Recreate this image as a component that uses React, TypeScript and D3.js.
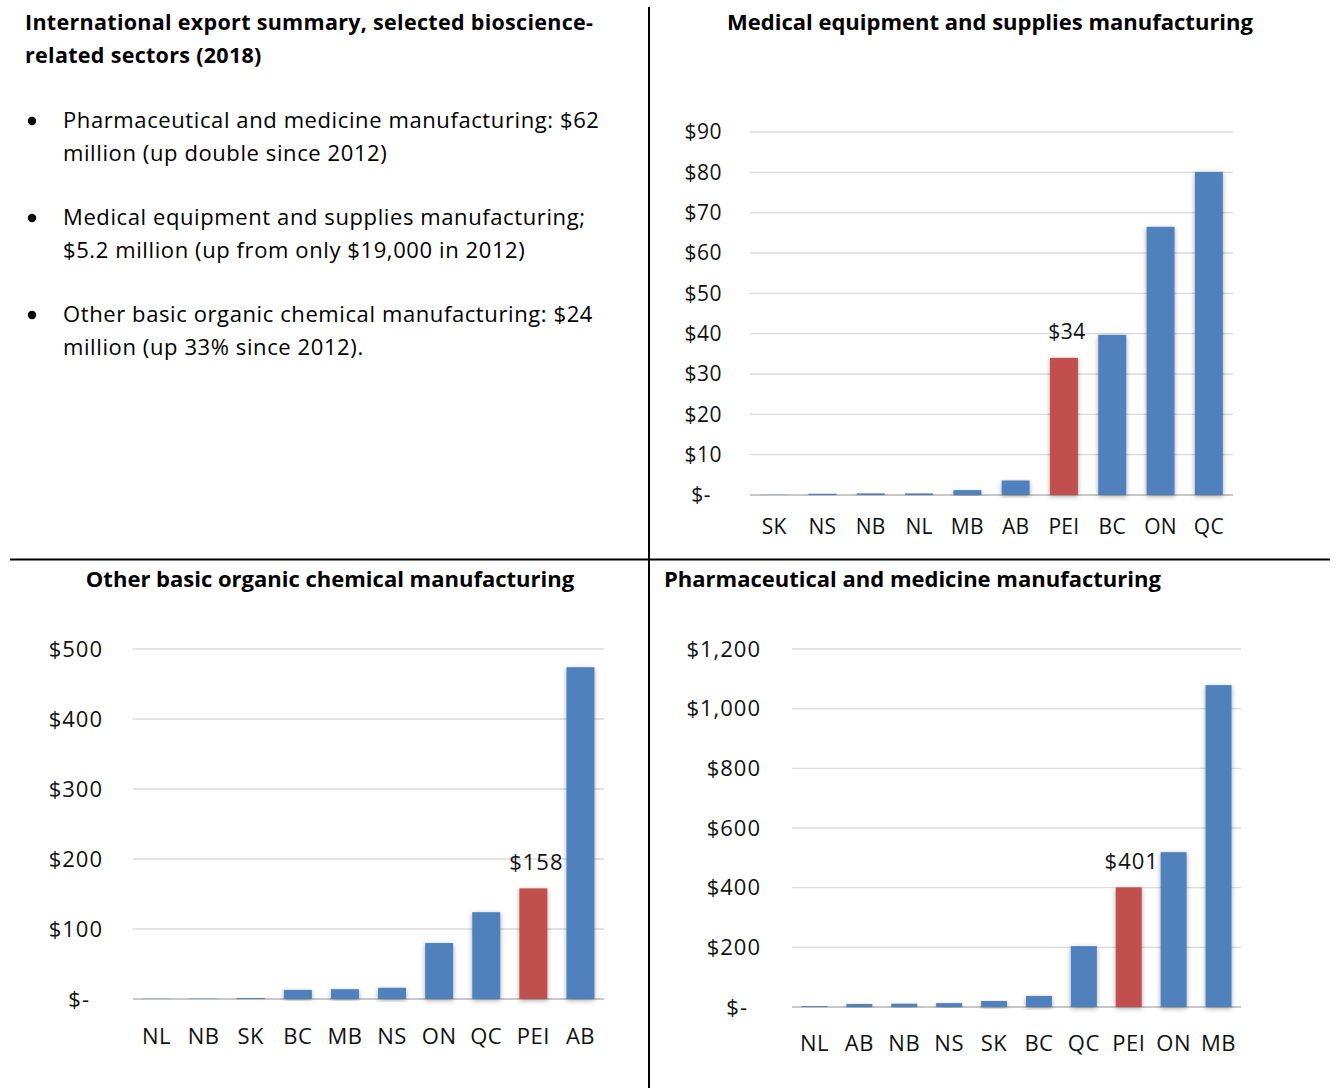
import React from "react";
import * as d3 from "d3";

const BLUE = "#4F81BD";
const RED = "#C0504D";
const FONT = "'Open Sans', sans-serif";

const summaryTitle = ["International export summary, selected bioscience-", "related sectors (2018)"];
const summaryBullets = [
  ["Pharmaceutical and medicine manufacturing: $62", "million (up double since 2012)"],
  ["Medical equipment and supplies manufacturing;", "$5.2 million (up from only $19,000 in 2012)"],
  ["Other basic organic chemical manufacturing: $24", "million (up 33% since 2012)."],
];

const medTitle = "Medical equipment and supplies manufacturing";
const medCats = ["SK", "NS", "NB", "NL", "MB", "AB", "PEI", "BC", "ON", "QC"];
const medVals = [0.05, 0.3, 0.4, 0.4, 1.2, 3.6, 34, 39.7, 66.5, 80.1];
const medTicks = [0, 10, 20, 30, 40, 50, 60, 70, 80, 90];

const orgTitle = "Other basic organic chemical manufacturing";
const orgCats = ["NL", "NB", "SK", "BC", "MB", "NS", "ON", "QC", "PEI", "AB"];
const orgVals = [0.3, 0.5, 1.4, 13, 14, 16, 80, 124, 158, 474];
const orgTicks = [0, 100, 200, 300, 400, 500];

const phaTitle = "Pharmaceutical and medicine manufacturing";
const phaCats = ["NL", "AB", "NB", "NS", "SK", "BC", "QC", "PEI", "ON", "MB"];
const phaVals = [3, 10, 11, 13, 20, 37, 204, 401, 519, 1079];
const phaTicks = [0, 200, 400, 600, 800, 1000, 1200];

const highlight = "PEI";

type ChartProps = {
  cats: string[];
  vals: number[];
  ticks: number[];
  x0: number;
  x1: number;
  yTop: number;
  yBot: number;
  labelRight: number;
  zeroRight: number;
  catY: number;
  barW: number;
  fontSize: number;
  ls: number;
};

function fmt(v: number) {
  return v === 0 ? "$-" : "$" + d3.format(",")(v);
}

function BarChart(p: ChartProps) {
  const x = d3.scaleBand<string>().domain(p.cats).range([p.x0, p.x1]).padding(0);
  const y = d3
    .scaleLinear()
    .domain([0, p.ticks[p.ticks.length - 1]])
    .range([p.yBot, p.yTop]);
  return (
    <g>
      {p.ticks.map((t) => (
        <g key={t}>
          <line
            x1={p.x0}
            x2={p.x1}
            y1={y(t)}
            y2={y(t)}
            stroke={t === 0 ? "#C8C8C8" : "#DADADA"}
            strokeWidth={t === 0 ? 2 : 1.3}
          />
          <text
            x={t === 0 ? p.zeroRight : p.labelRight}
            y={y(t)}
            dy="0.35em"
            textAnchor="end"
            fontSize={p.fontSize}
            fontFamily={FONT}
            letterSpacing={p.ls}
            fill="#111"
          >
            {fmt(t)}
          </text>
        </g>
      ))}
      {p.cats.map((c, i) => {
        const cx = (x(c) as number) + x.bandwidth() / 2;
        const top = y(p.vals[i]);
        const isH = c === highlight;
        return (
          <g key={c}>
            <rect
              x={cx - p.barW / 2}
              y={top}
              width={p.barW}
              height={Math.max(0, p.yBot - top)}
              fill={isH ? RED : BLUE}
              filter="url(#shadow)"
            />
            {isH && (
              <text
                x={cx + 3}
                y={top - 26}
                dy="0.35em"
                textAnchor="middle"
                fontSize={p.fontSize}
                fontFamily={FONT}
                letterSpacing={p.ls}
                fill="#111"
              >
                {"$" + d3.format(",")(Math.round(p.vals[i]))}
              </text>
            )}
            <text
              x={cx}
              y={p.catY}
              dy="0.35em"
              textAnchor="middle"
              fontSize={p.fontSize}
              fontFamily={FONT}
              letterSpacing={p.ls * 0.5}
              fill="#111"
            >
              {c}
            </text>
          </g>
        );
      })}
    </g>
  );
}

export default function App() {
  return (
    <svg
      width={1335}
      height={1088}
      style={{ position: "absolute", left: 0, top: 0, background: "#fff" }}
    >
      <defs>
        <filter id="shadow" x="-30%" y="-10%" width="160%" height="130%">
          <feDropShadow dx="0" dy="1.5" stdDeviation="2.5" floodColor="#000" floodOpacity="0.35" />
        </filter>
      </defs>
      <rect width={1335} height={1088} fill="#fff" />
      {/* dividers */}
      <line x1={649} x2={649} y1={7} y2={1088} stroke="#000" strokeWidth={2} />
      <line x1={10} x2={1330} y1={559.5} y2={559.5} stroke="#000" strokeWidth={2} />

      {/* summary text */}
      {summaryTitle.map((t, i) => (
        <text key={t} x={25} y={30 + i * 33} fontSize={21.5} letterSpacing={0.3} fontWeight="bold" fontFamily={FONT} fill="#000">
          {t}
        </text>
      ))}
      {summaryBullets.map((b, i) => (
        <g key={i}>
          <circle cx={32} cy={121 + i * 97} r={4.2} fill="#000" />
          {b.map((l, j) => (
            <text key={j} x={63} y={128 + i * 97 + j * 33} fontSize={22} letterSpacing={0.6} fontFamily={FONT} fill="#000">
              {l}
            </text>
          ))}
        </g>
      ))}

      {/* titles */}
      <text x={990} y={30} textAnchor="middle" fontSize={22} fontWeight="bold" fontFamily={FONT}>
        {medTitle}
      </text>
      <text x={330} y={587} textAnchor="middle" fontSize={22} fontWeight="bold" fontFamily={FONT}>
        {orgTitle}
      </text>
      <text x={664} y={587} textAnchor="start" fontSize={22} fontWeight="bold" fontFamily={FONT}>
        {phaTitle}
      </text>

      <BarChart
        cats={medCats}
        vals={medVals}
        ticks={medTicks}
        x0={750}
        x1={1233}
        yTop={132}
        yBot={495}
        labelRight={722}
        zeroRight={711}
        catY={527}
        barW={28}
        fontSize={21}
        ls={0.5}
      />
      <BarChart
        cats={orgCats}
        vals={orgVals}
        ticks={orgTicks}
        x0={133}
        x1={604}
        yTop={649}
        yBot={999}
        labelRight={103}
        zeroRight={90}
        catY={1036}
        barW={28}
        fontSize={22}
        ls={1}
      />
      <BarChart
        cats={phaCats}
        vals={phaVals}
        ticks={phaTicks}
        x0={792}
        x1={1241}
        yTop={649}
        yBot={1007}
        labelRight={761}
        zeroRight={748}
        catY={1043}
        barW={26}
        fontSize={22}
        ls={1}
      />
    </svg>
  );
}
